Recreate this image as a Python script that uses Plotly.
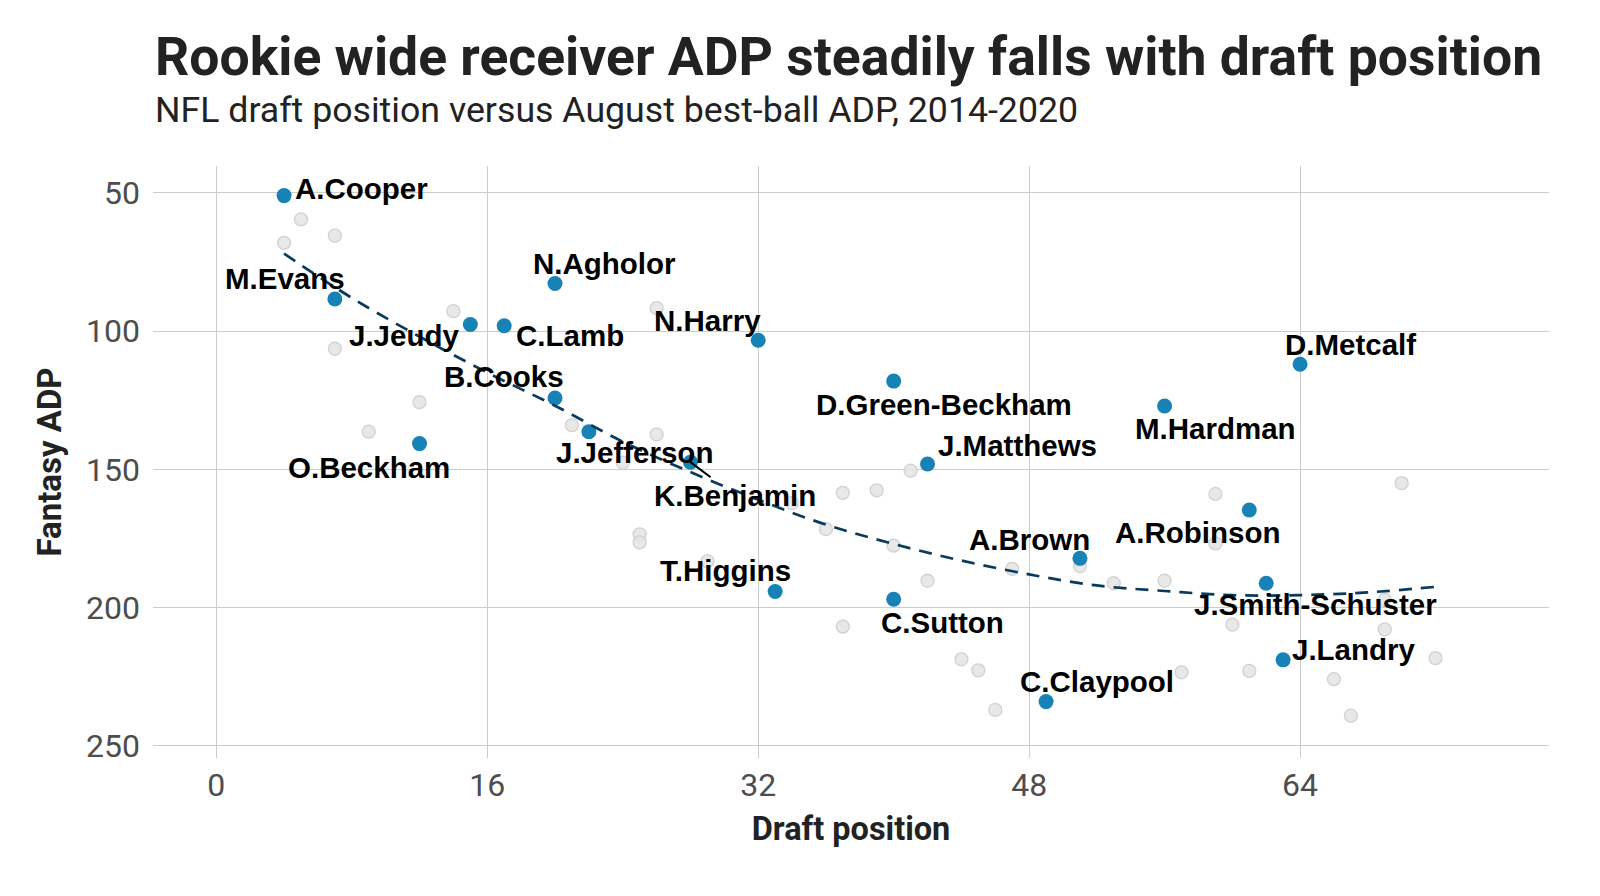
import plotly.graph_objects as go

# ---- data ----
other_x = [4, 5, 7, 7, 9, 12, 14, 21, 24, 26, 26, 25, 25, 29, 34, 36, 37, 37, 39, 40,
           41, 42, 44, 45, 46, 47, 51, 53, 56, 57, 59, 59, 60, 61, 66, 67, 69, 69, 70, 72]
other_y = [68.1, 59.6, 65.5, 106.4, 136.4, 125.7, 92.8, 134.0, 147.6, 91.7, 137.4, 173.5,
           176.4, 183.2, 162.2, 171.6, 158.5, 206.9, 157.6, 177.6, 150.5, 190.3, 218.7,
           222.7, 237.0, 186.0, 185.0, 191.2, 190.3, 223.4, 158.9, 176.8, 206.2, 222.9,
           225.9, 239.1, 207.9, 197.2, 155.0, 218.3]

players = ["A.Cooper", "M.Evans", "J.Jeudy", "C.Lamb", "N.Agholor", "B.Cooks", "O.Beckham",
           "J.Jefferson", "K.Benjamin", "N.Harry", "D.Green-Beckham", "J.Matthews",
           "T.Higgins", "C.Sutton", "A.Brown", "C.Claypool", "D.Metcalf", "M.Hardman",
           "A.Robinson", "J.Smith-Schuster", "J.Landry"]
draft_pos = [4, 7, 15, 17, 20, 20, 12, 22, 28, 32, 40, 42, 33, 40, 51, 49, 64, 56, 61, 62, 63]
adp = [51.0, 88.4, 97.6, 98.1, 82.8, 124.2, 140.7, 136.4, 147.4, 103.3, 118.1, 148.1,
       194.2, 197.0, 182.2, 234.0, 112.0, 127.1, 164.7, 191.2, 218.9]

# label positions (data units)
label_x = [8.55, 4.05, 11.1, 20.9, 22.9, 17.0, 9.0, 24.7, 30.6, 29.0, 43.0, 47.3,
           30.05, 42.9, 48.0, 52.0, 67.0, 59.0, 58.0, 64.9, 67.2]
label_y = [48.6, 80.9, 101.7, 101.7, 75.5, 116.5, 149.3, 143.9, 159.4, 96.0, 126.4, 141.5,
           186.7, 205.3, 175.2, 226.8, 104.7, 135.3, 172.8, 199.0, 215.0]

trend_x = [4, 8, 12, 16, 20, 24, 28, 32, 36, 40, 44, 48, 52, 56, 60, 64, 68, 72]
trend_y = [72, 88, 102, 115, 127, 140, 151, 161, 170, 177, 183, 188, 192, 194, 195.5,
           195.5, 194.5, 192.5]

x_ticks = [0, 16, 32, 48, 64]
y_ticks = [50, 100, 150, 200, 250]

BLUE = "#1782b5"
NAVY = "#0a3a5c"

fig = go.Figure()
fig.add_trace(go.Scatter(
    x=other_x, y=other_y, mode="markers",
    marker=dict(size=13, color="rgba(230,230,230,0.9)",
                line=dict(color="rgba(205,205,205,0.9)", width=1.3)),
    hoverinfo="skip", showlegend=False))
fig.add_trace(go.Scatter(
    x=draft_pos, y=adp, mode="markers", text=players,
    marker=dict(size=15, color=BLUE, line=dict(width=0)),
    showlegend=False))
fig.add_trace(go.Scatter(
    x=trend_x, y=trend_y, mode="lines", line_shape="spline",
    line=dict(color=NAVY, width=2.7, dash="13px,9px"),
    hoverinfo="skip", showlegend=False))

LABEL_FONT = dict(family="Liberation Sans, Arial, sans-serif", size=29.5,
                  color="#000000", weight="bold")
for name, px_, py_, lx, ly in zip(players, draft_pos, adp, label_x, label_y):
    if name == "K.Benjamin":
        fig.add_annotation(x=px_, y=py_, ax=lx, ay=ly, axref="x", ayref="y",
                           text=name, showarrow=True, arrowhead=0, arrowwidth=2,
                           arrowcolor="#000000", standoff=0, startstandoff=0,
                           font=LABEL_FONT, xanchor="center", yanchor="middle")
    else:
        fig.add_annotation(x=lx, y=ly, text=name, showarrow=False,
                           font=LABEL_FONT, xanchor="center", yanchor="middle")

# titles (positions relative to the plot area)
fig.add_annotation(xref="paper", yref="paper", x=0, y=(758 - 56) / 592,
                   xanchor="left", yanchor="middle", showarrow=False,
                   text="Rookie wide receiver ADP steadily falls with draft position",
                   font=dict(family="Roboto", size=53.5, color="#222222", weight="bold"))
fig.add_annotation(xref="paper", yref="paper", x=0, y=(758 - 110) / 592,
                   xanchor="left", yanchor="middle", showarrow=False,
                   text="NFL draft position versus August best-ball ADP, 2014-2020",
                   font=dict(family="Roboto", size=35.7, color="#222222"))

# the page places the figure 8px from the top-left corner; compensate in the margins
fig.update_layout(
    width=1600, height=896,
    margin=dict(l=145, r=59, t=158, b=146, autoexpand=False),
    plot_bgcolor="white", paper_bgcolor="white",
    font=dict(family="Roboto", color="#4d4d4d"),
    xaxis=dict(range=[-3.74, 78.7], tickvals=x_ticks, showgrid=True,
               gridcolor="#cccccc", gridwidth=1.3, zeroline=False, showline=False,
               ticks="", ticklabelstandoff=5, tickfont=dict(size=32, color="#4d4d4d"),
               title=dict(text="Draft position", standoff=14,
                          font=dict(size=32.5, color="#222222", weight="bold"))),
    yaxis=dict(range=[254.4, 40.3], tickvals=y_ticks, showgrid=True,
               gridcolor="#cccccc", gridwidth=1.3, zeroline=False, showline=False,
               ticks="", ticklabelstandoff=12, tickfont=dict(size=32, color="#4d4d4d"),
               title=dict(text="Fantasy ADP", standoff=14,
                          font=dict(size=33, color="#222222", weight="bold"))),
)

fig.write_html("out.html")
